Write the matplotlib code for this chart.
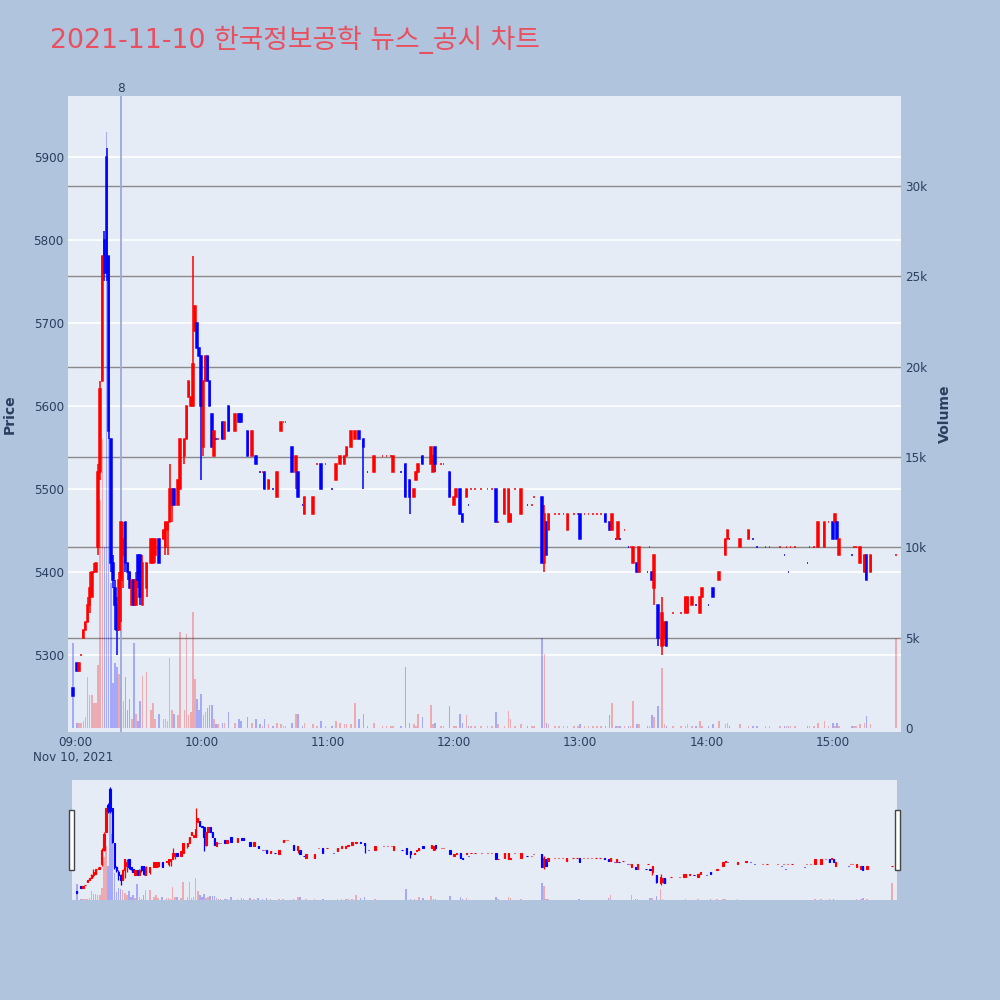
import matplotlib
matplotlib.use("Agg")
import matplotlib.pyplot as plt
from matplotlib.patches import Rectangle
from matplotlib.transforms import blended_transform_factory
import numpy as np

# ---------------- data (minutes after 09:00) ----------------
minutes = [-1, 1, 2, 3, 4, 5, 6, 7, 8, 9, 10, 11, 12, 13, 14, 15, 16, 17, 18, 19,
           20, 21, 22, 23, 24, 25, 26, 27, 28, 29, 30, 31, 32, 34, 36, 37, 38, 40, 42, 43,
           44, 45, 46, 47, 49, 50, 52, 53, 54, 55, 56, 57, 58, 59, 60, 61, 62, 63, 64, 65,
           66, 67, 68, 70, 71, 73, 76, 78, 79, 82, 84, 86, 88, 89, 90, 92, 94, 96, 98, 99,
           100, 103, 105, 106, 108, 109, 113, 115, 117, 119, 122, 124, 126, 128, 129, 131, 133, 135, 137, 139,
           142, 146, 148, 150, 151, 155, 157, 159, 161, 162, 163, 165, 169, 170, 171, 174, 175, 178, 180, 181,
           183, 184, 186, 187, 188, 190, 193, 196, 198, 200, 201, 204, 206, 207, 209, 212, 215, 217, 218, 222,
           223, 224, 225, 228, 230, 232, 234, 237, 239, 240, 242, 244, 246, 248, 250, 252, 254, 255, 257, 258,
           259, 261, 263, 264, 265, 267, 268, 272, 273, 274, 275, 277, 279, 280, 281, 284, 288, 290, 291, 293,
           295, 297, 298, 301, 303, 306, 309, 310, 311, 316, 320, 322, 324, 328, 330, 335, 337, 338, 339, 340,
           342, 348, 349, 351, 353, 356, 358, 360, 361, 362, 363, 369, 370, 371, 373, 375, 376, 378, 390]
opens = [5260, 5290, 5280, 5300, 5320, 5330, 5340, 5360, 5370, 5400, 5400, 5430, 5520, 5630, 5800, 5900, 5780, 5560, 5410, 5380,
         5360, 5330, 5390, 5420, 5460, 5410, 5400, 5360, 5390, 5360, 5420, 5420, 5360, 5380, 5410, 5410, 5420, 5440, 5440, 5430,
         5450, 5460, 5480, 5500, 5480, 5500, 5540, 5560, 5610, 5600, 5600, 5690, 5700, 5670, 5660, 5550, 5630, 5660, 5630, 5590,
         5540, 5560, 5560, 5580, 5560, 5600, 5570, 5590, 5590, 5570, 5540, 5540, 5520, 5520, 5520, 5500, 5500, 5490, 5570, 5580,
         5580, 5550, 5520, 5520, 5480, 5470, 5470, 5530, 5530, 5530, 5500, 5510, 5530, 5530, 5540, 5550, 5560, 5570, 5560, 5520,
         5520, 5540, 5540, 5540, 5520, 5520, 5530, 5510, 5490, 5510, 5520, 5540, 5530, 5520, 5550, 5530, 5530, 5520, 5480, 5490,
         5500, 5470, 5490, 5480, 5500, 5500, 5500, 5500, 5500, 5500, 5460, 5470, 5460, 5460, 5500, 5470, 5480, 5480, 5490, 5490,
         5410, 5460, 5450, 5470, 5470, 5470, 5450, 5470, 5470, 5470, 5470, 5470, 5470, 5470, 5470, 5470, 5460, 5450, 5440, 5440,
         5440, 5450, 5430, 5430, 5410, 5410, 5400, 5400, 5430, 5400, 5380, 5360, 5310, 5320, 5340, 5350, 5350, 5350, 5350, 5360,
         5360, 5350, 5370, 5360, 5380, 5390, 5420, 5440, 5440, 5430, 5440, 5440, 5430, 5430, 5430, 5430, 5420, 5430, 5400, 5430,
         5430, 5410, 5430, 5430, 5430, 5430, 5460, 5460, 5460, 5460, 5420, 5420, 5430, 5430, 5410, 5400, 5420, 5400, 5420]
highs = [5260, 5290, 5290, 5300, 5330, 5340, 5370, 5400, 5400, 5410, 5410, 5530, 5630, 5780, 5810, 5910, 5780, 5560, 5420, 5390,
         5370, 5400, 5460, 5460, 5460, 5410, 5400, 5390, 5390, 5400, 5420, 5420, 5420, 5410, 5440, 5440, 5440, 5440, 5450, 5460,
         5460, 5530, 5500, 5500, 5510, 5560, 5560, 5600, 5630, 5610, 5780, 5720, 5700, 5670, 5660, 5630, 5660, 5660, 5630, 5590,
         5570, 5560, 5560, 5580, 5580, 5600, 5590, 5590, 5590, 5570, 5570, 5540, 5520, 5520, 5520, 5510, 5500, 5520, 5580, 5580,
         5580, 5550, 5540, 5520, 5480, 5490, 5490, 5530, 5530, 5530, 5500, 5530, 5540, 5540, 5550, 5570, 5570, 5570, 5560, 5520,
         5540, 5540, 5540, 5540, 5540, 5520, 5530, 5510, 5500, 5520, 5530, 5540, 5550, 5540, 5550, 5530, 5530, 5520, 5490, 5500,
         5500, 5470, 5500, 5480, 5500, 5500, 5500, 5500, 5500, 5500, 5460, 5500, 5500, 5470, 5500, 5500, 5480, 5480, 5490, 5490,
         5480, 5460, 5470, 5470, 5470, 5470, 5470, 5470, 5470, 5470, 5470, 5470, 5470, 5470, 5470, 5470, 5460, 5470, 5440, 5460,
         5440, 5450, 5430, 5430, 5430, 5410, 5430, 5400, 5430, 5400, 5420, 5360, 5370, 5340, 5340, 5350, 5350, 5370, 5370, 5370,
         5360, 5370, 5380, 5360, 5380, 5400, 5440, 5450, 5440, 5440, 5450, 5440, 5430, 5430, 5430, 5430, 5420, 5430, 5400, 5430,
         5430, 5410, 5430, 5430, 5460, 5460, 5460, 5460, 5470, 5460, 5440, 5420, 5430, 5430, 5430, 5420, 5420, 5420, 5420]
lows = [5250, 5280, 5280, 5300, 5320, 5330, 5340, 5350, 5370, 5400, 5400, 5420, 5510, 5630, 5750, 5750, 5560, 5400, 5380, 5330,
        5300, 5330, 5340, 5380, 5400, 5390, 5380, 5360, 5360, 5360, 5380, 5360, 5360, 5370, 5410, 5410, 5410, 5410, 5440, 5420,
        5420, 5460, 5460, 5480, 5480, 5500, 5530, 5560, 5610, 5600, 5600, 5690, 5670, 5660, 5510, 5540, 5630, 5630, 5600, 5550,
        5540, 5560, 5560, 5560, 5560, 5570, 5570, 5580, 5580, 5540, 5540, 5530, 5520, 5520, 5500, 5500, 5500, 5490, 5570, 5580,
        5580, 5520, 5500, 5490, 5480, 5470, 5470, 5530, 5500, 5530, 5500, 5510, 5530, 5530, 5540, 5550, 5560, 5560, 5500, 5520,
        5520, 5540, 5540, 5540, 5520, 5520, 5490, 5470, 5490, 5510, 5520, 5530, 5530, 5520, 5520, 5530, 5530, 5490, 5480, 5490,
        5470, 5460, 5490, 5480, 5500, 5500, 5500, 5500, 5500, 5460, 5460, 5470, 5460, 5460, 5500, 5470, 5480, 5480, 5490, 5410,
        5400, 5420, 5450, 5470, 5470, 5470, 5450, 5470, 5470, 5440, 5470, 5470, 5470, 5470, 5470, 5460, 5450, 5450, 5440, 5440,
        5440, 5450, 5430, 5430, 5410, 5400, 5400, 5400, 5430, 5390, 5360, 5310, 5300, 5310, 5310, 5350, 5350, 5350, 5350, 5360,
        5360, 5350, 5370, 5360, 5370, 5390, 5420, 5440, 5440, 5430, 5440, 5440, 5430, 5430, 5430, 5430, 5420, 5430, 5400, 5430,
        5430, 5410, 5430, 5430, 5430, 5430, 5460, 5440, 5460, 5440, 5420, 5420, 5430, 5430, 5410, 5400, 5390, 5400, 5420]
closes = [5250, 5280, 5290, 5300, 5330, 5340, 5360, 5380, 5400, 5400, 5410, 5520, 5620, 5780, 5760, 5760, 5570, 5410, 5390, 5360,
          5330, 5390, 5460, 5440, 5410, 5400, 5380, 5390, 5360, 5390, 5390, 5370, 5410, 5410, 5440, 5440, 5440, 5410, 5450, 5460,
          5460, 5500, 5500, 5480, 5510, 5560, 5560, 5600, 5630, 5610, 5650, 5720, 5670, 5660, 5600, 5630, 5660, 5630, 5600, 5550,
          5570, 5560, 5560, 5560, 5580, 5570, 5590, 5580, 5580, 5540, 5570, 5530, 5520, 5520, 5500, 5510, 5500, 5520, 5580, 5580,
          5580, 5520, 5540, 5490, 5480, 5490, 5490, 5530, 5500, 5530, 5500, 5530, 5540, 5540, 5550, 5570, 5570, 5560, 5550, 5520,
          5540, 5540, 5540, 5540, 5540, 5520, 5490, 5490, 5500, 5520, 5530, 5530, 5550, 5540, 5530, 5530, 5530, 5490, 5490, 5500,
          5470, 5460, 5500, 5480, 5500, 5500, 5500, 5500, 5500, 5460, 5460, 5500, 5500, 5470, 5500, 5500, 5480, 5480, 5490, 5410,
          5470, 5420, 5470, 5470, 5470, 5470, 5470, 5470, 5470, 5440, 5470, 5470, 5470, 5470, 5470, 5460, 5450, 5470, 5440, 5460,
          5440, 5450, 5430, 5430, 5430, 5400, 5430, 5400, 5430, 5390, 5420, 5320, 5350, 5340, 5310, 5350, 5350, 5370, 5370, 5370,
          5360, 5370, 5380, 5360, 5370, 5400, 5440, 5450, 5440, 5440, 5450, 5440, 5430, 5430, 5430, 5430, 5420, 5430, 5400, 5430,
          5430, 5410, 5430, 5430, 5460, 5460, 5460, 5440, 5470, 5440, 5440, 5420, 5430, 5430, 5430, 5420, 5390, 5420, 5420]
volumes = [4700, 300, 300, 300, 400, 600, 2800, 1800, 1800, 1400, 1400, 3500, 12600, 16000, 10000, 33000, 19400, 8000, 2500, 3600,
           3400, 3000, 2200, 1500, 2800, 1000, 1600, 500, 4700, 800, 400, 1500, 2900, 3100, 1000, 1400, 500, 800, 500, 500,
           400, 3900, 1000, 800, 700, 5300, 1000, 5200, 700, 900, 6400, 2700, 1600, 1000, 1900, 700, 900, 1100, 1300, 1300,
           500, 200, 200, 300, 300, 900, 300, 500, 400, 600, 300, 500, 200, 100, 500, 200, 100, 300, 200, 100,
           100, 300, 800, 800, 100, 300, 200, 100, 400, 100, 100, 400, 300, 200, 200, 200, 1400, 500, 800, 100,
           300, 100, 100, 100, 100, 100, 3400, 300, 200, 100, 800, 600, 1300, 200, 300, 100, 100, 1200, 100, 100,
           800, 300, 700, 100, 100, 100, 100, 100, 100, 900, 200, 100, 950, 500, 100, 200, 100, 100, 100, 5000,
           4100, 300, 200, 100, 100, 100, 100, 100, 100, 200, 100, 100, 100, 100, 100, 100, 700, 1400, 100, 100,
           100, 100, 100, 100, 1500, 200, 200, 100, 100, 700, 600, 1200, 3300, 200, 100, 100, 100, 100, 200, 100,
           100, 400, 100, 100, 200, 400, 200, 300, 100, 200, 100, 100, 100, 100, 100, 100, 100, 100, 100, 100,
           100, 100, 100, 100, 300, 400, 100, 300, 100, 300, 100, 100, 100, 100, 200, 300, 660, 200, 5000]

hour_ticks = [0, 60, 120, 180, 240, 300, 360]
hour_labels = ["09:00", "10:00", "11:00", "12:00", "13:00", "14:00", "15:00"]
price_ticks = [5300, 5400, 5500, 5600, 5700, 5800, 5900]
volume_ticks = [0, 5000, 10000, 15000, 20000, 25000, 30000]
volume_labels = ["0", "5k", "10k", "15k", "20k", "25k", "30k"]
news_minute = 22
news_label = "8"
title_text = "2021-11-10 한국정보공학 뉴스_공시 차트"
date_label = "Nov 10, 2021"

# ---------------- style ----------------
BG = "#b0c4de"
PLOT_BG = "#e5ecf6"
TXT = "#2a3f5f"
RED = "#ff0000"
BLUE = "#0000ff"
FONT = ["DejaVu Sans", "Noto Sans CJK KR"]
plt.rcParams["font.family"] = FONT
FS = 8.64  # 12 px

t = np.array(minutes, dtype=float)
o = np.array(opens, float); h = np.array(highs, float)
l = np.array(lows, float); c = np.array(closes, float)
v = np.array(volumes, float)
prev_c = np.concatenate([[c[0]], c[:-1]])
up = (c > o) | ((c == o) & (c >= prev_c))
cols = np.where(up, RED, BLUE)

XLIM = (-3.3, 392.4)
PY = (5207, 5973)
VY = (-220, 34970)

fig = plt.figure(figsize=(10, 10), dpi=100, facecolor=BG)

def px_rect(x0, y0, x1, y1):
    return [x0 / 1000, 1 - y1 / 1000, (x1 - x0) / 1000, (y1 - y0) / 1000]

def draw_candles(ax, bw, elw, wlw):
    ax.vlines(t, l, h, colors=cols, linewidths=wlw, zorder=3)
    ax.bar(t, c - o, bottom=o, width=bw, color=cols, edgecolor=cols,
           linewidth=elw, zorder=4)

def draw_volume(ax, w):
    ax.bar(t, v, width=w, color=cols, alpha=0.28, linewidth=0, zorder=2)

rect = px_rect(68, 96, 901, 732)
ax_bg = fig.add_axes(rect, zorder=0)
ax_bg.set_facecolor(PLOT_BG)
ax_bg.set_xlim(*XLIM); ax_bg.set_ylim(*PY)
ax_bg.set_yticks(price_ticks)
ax_bg.set_yticklabels([str(p) for p in price_ticks])
ax_bg.grid(axis="y", color="white", linewidth=1.2)
ax_bg.set_xticks(hour_ticks)
ax_bg.set_xticklabels(hour_labels)
ax_bg.tick_params(length=0, labelsize=FS, colors=TXT, pad=3)
for s in ax_bg.spines.values():
    s.set_visible(False)

ax_v = fig.add_axes(rect, zorder=1)
ax_v.patch.set_alpha(0)
ax_v.set_xlim(*XLIM); ax_v.set_ylim(*VY)
ax_v.yaxis.tick_right()
ax_v.set_yticks(volume_ticks)
ax_v.set_yticklabels(volume_labels)
ax_v.set_xticks([])
ax_v.tick_params(length=0, labelsize=FS, colors=TXT, pad=3)
for vt in volume_ticks[1:]:
    ax_v.axhline(vt, color="#8a8a8a", linewidth=1.0, zorder=1)
draw_volume(ax_v, 0.75)
for s in ax_v.spines.values():
    s.set_visible(False)

ax_c = fig.add_axes(rect, zorder=2)
ax_c.patch.set_alpha(0)
ax_c.set_xlim(*XLIM); ax_c.set_ylim(*PY)
ax_c.set_xticks([]); ax_c.set_yticks([])
for s in ax_c.spines.values():
    s.set_visible(False)
draw_candles(ax_c, 0.75, 1.1, 1.1)
ax_c.axvline(news_minute, color="#9ea8dc", linewidth=1.3, zorder=1)
tr = blended_transform_factory(ax_c.transData, ax_c.transAxes)
ax_c.text(news_minute, 1.002, news_label, transform=tr, ha="center", va="bottom",
          fontsize=FS, color=TXT)

# range slider
ax_s = fig.add_axes(px_rect(72, 780, 897, 900), zorder=0)
ax_s.set_facecolor(PLOT_BG)
ax_s.set_xlim(*XLIM); ax_s.set_ylim(5205, 5955)
ax_s.set_xticks([]); ax_s.set_yticks([])
for s in ax_s.spines.values():
    s.set_visible(False)
draw_candles(ax_s, 0.65, 0.8, 0.9)
ax_sv = fig.add_axes(px_rect(72, 780, 897, 900), zorder=1)
ax_sv.patch.set_alpha(0)
ax_sv.set_xlim(*XLIM); ax_sv.set_ylim(0, 35500)
ax_sv.set_xticks([]); ax_sv.set_yticks([])
for s in ax_sv.spines.values():
    s.set_visible(False)
draw_volume(ax_sv, 0.75)

for (x0, x1) in [(69, 74), (895, 900)]:
    fig.patches.append(Rectangle((x0 / 1000, 1 - 870 / 1000), (x1 - x0) / 1000, 60 / 1000,
                                 transform=fig.transFigure, facecolor="white",
                                 edgecolor="#444444", linewidth=1.0, zorder=5))

# texts
fig.text(50 / 1000, 1 - 40 / 1000, title_text, ha="left", va="center",
         fontsize=19.3, color="#e8505f")
fig.text(10 / 1000, 1 - 414 / 1000, "Price", rotation=90, ha="center", va="center",
         fontsize=10.1, fontweight="bold", color=TXT)
fig.text(945 / 1000, 1 - 414 / 1000, "Volume", rotation=90, ha="center", va="center",
         fontsize=10.1, fontweight="bold", color=TXT)
fig.text(73 / 1000, 1 - 757 / 1000, date_label, ha="center", va="center",
         fontsize=FS, color=TXT)

fig.savefig("out.png", dpi=100, facecolor=BG)
